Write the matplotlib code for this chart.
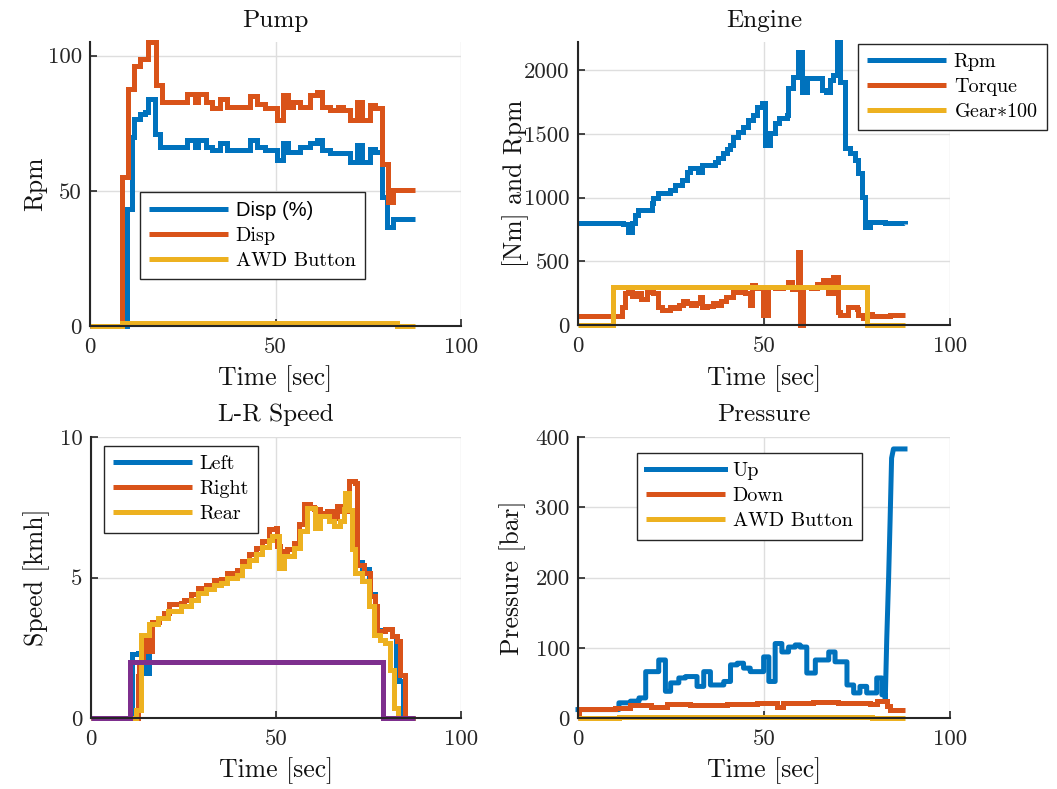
import matplotlib
matplotlib.use("Agg")
import matplotlib.pyplot as plt
from matplotlib.font_manager import FontProperties

# ---------------- data ----------------
# Pump
pump_disp_pct_t = [0, 9.9, 11.2, 11.9, 13.5, 14.8, 15.7, 17.6, 19.0, 26.1, 28.3, 29.2, 31.4, 32.8,
                   35.0, 36.8, 43.1, 44.9, 47.2, 50.3, 52.1, 53.5, 56.6, 59.3, 61.1, 62.4, 64.7,
                   70.1, 71.9, 73.2, 75.5, 76.8, 78.6, 80.0, 81.8, 87.6]
pump_disp_pct = [0, 43.4, 69.9, 76.6, 78.2, 79, 84, 71.1, 66.2, 68.6, 66.2, 68.6, 66.2, 65,
                 67.5, 65, 68.6, 66.2, 65, 61.3, 67.5, 64.5, 66.2, 67.5, 68.9, 65, 64,
                 60.6, 66.9, 60.6, 65.6, 64.5, 47.7, 36.6, 39.7, 39.7]
pump_disp_t = [0, 8.5, 10.3, 11.9, 13.5, 15.7, 17.8, 19.3, 26.1, 28.3, 29.2, 31.4, 32.8, 35.0,
               36.8, 43.1, 44.9, 47.2, 50.3, 52.1, 53.5, 54.8, 56.6, 59.3, 61.1, 62.4, 64.7,
               66.9, 68.3, 70.1, 71.9, 73.2, 75.5, 76.8, 78.6, 80.4, 81.8, 87.6]
pump_disp = [0, 55, 87.7, 96, 98.8, 104.9, 89, 82.8, 85.8, 82.8, 85.8, 82.8, 80.6, 83.9,
             81, 85, 82, 80.5, 76, 85.3, 81, 82.8, 81, 85.3, 86.5, 81, 80,
             81, 80, 76, 82.8, 76, 81.8, 80.6, 60, 45.9, 50.2, 50.2]
pump_awd_t = [0, 8.5, 82.7, 87.6]
pump_awd = [0, 1, 0, 0]

# Engine
eng_t = [0, 12.2, 13.5, 14.4, 15.3, 16.2, 19.8, 20.2, 21.6, 24.7, 26.1, 27.9, 29.2, 30.1, 32.3,
         33.2, 36.8, 37.7, 39.1, 40.0, 40.9, 41.8, 43.1, 44.4, 45.8, 47.1, 48.0, 49.4, 50.3,
         51.6, 53.0, 53.9, 56.1, 56.5, 57.9, 59.2, 60.1, 61.5, 64.6, 65.5, 66.8, 67.7, 68.6,
         69.5, 70.4, 71.8, 73.1, 74.5, 75.4, 76.3, 77.1, 78.5, 82.5, 87.9]
eng_rpm = [800, 790, 732, 800, 863, 902, 954, 993, 1033, 1059, 1098, 1137, 1203, 1229, 1203,
           1255, 1281, 1307, 1346, 1380, 1412, 1477, 1516, 1555, 1608, 1647, 1712, 1738, 1412,
           1503, 1581, 1621, 1647, 1856, 1947, 2144, 1830, 1935, 1935, 1843, 1830, 1922, 1960,
           2222, 1908, 1386, 1346, 1294, 1190, 1007, 771, 810, 797, 790]
torque_t = [0, 10.4, 11.7, 12.6, 13.5, 14.4, 15.8, 17.0, 18.5, 20.2, 21.6, 22.5, 24.7, 26.0,
            27.2, 28.3, 29.2, 30.5, 31.8, 32.8, 33.2, 34.8, 36.4, 37.3, 38.5, 39.9, 41.8, 42.7,
            43.8, 44.8, 46.2, 46.7, 47.6, 49.8, 50.7, 51.2, 53.0, 55.2, 56.5, 57.4, 59.2, 59.7,
            60.1, 60.6, 62.5, 64.2, 65.9, 67.3, 68.6, 70.0, 70.4, 72.7, 74.9, 75.4, 76.7, 77.6,
            78.9, 80.3, 84.0, 87.9]
torque = [70, 70, 144, 248, 275, 230, 250, 205, 262, 250, 144, 118, 144, 130,
          160, 185, 170, 160, 175, 222, 144, 150, 170, 160, 190, 222, 300, 260,
          275, 250, 157, 313, 290, 78, 78, 300, 290, 300, 340, 285, 575, 0,
          0, 300, 290, 320, 350, 250, 380, 100, 78, 144, 125, 78, 52, 90,
          70, 70, 78, 78]
gear_t = [0, 9.5, 77.6, 87.9]
gear100 = [0, 300, 0, 0]

# L-R speed
right_t = [0, 11.7, 12.6, 13.0, 14.0, 15.2, 16.6, 18.4, 19.8, 21.1, 24.3, 25.2, 27.0, 28.8,
           31.0, 33.2, 35.0, 36.8, 39.5, 40.9, 42.7, 44.5, 46.3, 48.1, 49.9, 50.3, 51.2, 53.0,
           54.8, 56.2, 57.5, 59.3, 60.2, 62.0, 63.8, 65.1, 66.5, 67.8, 69.2, 69.6, 71.4, 71.9,
           73.7, 75.5, 76.8, 77.3, 79.5, 81.3, 82.7, 83.6, 84.9, 87.6]
right_v = [0, 0, 1.5, 2.0, 2.85, 2.4, 3.4, 3.56, 3.74, 4.04, 4.1, 4.2, 4.4, 4.63,
           4.75, 4.9, 4.93, 5.17, 5.28, 5.58, 5.82, 6.06, 6.29, 6.71, 6.77, 6.12, 5.94, 6.0,
           6.24, 6.89, 7.6, 7.5, 7.42, 7.3, 7.35, 7.13, 7.54, 7.35, 7.66, 8.43, 8.37, 5.46,
           5.17, 4.33, 3.98, 3.09, 3.15, 2.91, 2.73, 1.54, 0, 0]
left_t = [0, 11.2, 12.6, 13.5, 14.8, 15.7, 16.6, 18.4, 19.8, 21.1, 24.3, 25.2, 27.0, 28.8,
          31.0, 33.2, 35.0, 36.8, 39.5, 40.9, 42.7, 44.5, 46.3, 48.1, 49.9, 50.3, 51.2, 53.0,
          54.8, 56.2, 57.5, 59.3, 60.2, 62.0, 63.8, 65.1, 66.5, 67.8, 69.2, 69.6, 71.4, 71.9,
          73.2, 75.0, 76.8, 77.3, 79.5, 81.3, 82.3, 83.3, 84.3, 87.6]
left_v = [0, 2.26, 2.3, 2.8, 1.6, 2.4, 3.4, 3.56, 3.74, 4.04, 4.1, 4.2, 4.4, 4.63,
          4.75, 4.9, 4.93, 5.17, 5.28, 5.58, 5.82, 6.06, 6.29, 6.71, 6.77, 6.12, 5.94, 6.0,
          6.24, 6.89, 7.6, 7.5, 7.42, 7.3, 7.35, 7.13, 7.54, 7.35, 7.66, 8.43, 8.37, 5.55,
          5.3, 4.4, 3.98, 3.12, 3.15, 2.91, 1.9, 1.3, 0, 0]
rear_t = [0, 12.1, 13.5, 15.7, 18.0, 20.7, 24.3, 27.0, 28.8, 31.0, 33.2, 35.0, 36.8, 39.5,
          40.9, 42.7, 44.5, 46.3, 48.1, 49.0, 50.8, 52.1, 54.8, 56.6, 58.4, 60.6, 62.0, 64.2,
          65.6, 67.4, 68.3, 68.7, 69.6, 70.5, 71.4, 73.2, 75.0, 76.4, 78.2, 79.5, 80.9, 81.8,
          83.1, 87.6]
rear_v = [0, 0.3, 2.97, 3.33, 3.56, 3.8, 3.98, 4.2, 4.45, 4.6, 4.75, 4.8, 5.0, 5.1,
          5.4, 5.62, 5.85, 6.1, 6.35, 6.47, 5.34, 5.76, 6.05, 6.65, 7.48, 6.77, 7.19, 7.0,
          6.83, 7.0, 7.42, 8.0, 7.4, 6.0, 5.17, 4.87, 3.98, 2.97, 2.79, 2.67, 1.72, 0.36,
          0, 0]
cmd_t = [0, 10.6, 78.9, 87.6]
cmd_v = [0, 2, 0, 0]

# Pressure (stepped part, then the final pressure build-up sampled as a ramp)
up_t = [0, 11.0, 14.1, 16.4, 18.2, 21.7, 23.5, 24.9, 27.1, 28.9, 32.0, 33.8, 35.6, 39.2, 41.0,
        42.8, 44.5, 46.3, 49.9, 51.3, 53.0, 54.8, 56.6, 58.4, 59.7, 61.5, 63.8, 67.4, 69.1,
        72.3, 74.1, 75.8, 77.6, 80.3, 81.7, 82.6]
up_v = [12, 21.6, 24, 28.6, 66, 82.6, 38, 50, 57, 59, 45, 66, 47, 52, 75.6,
        78, 71, 66, 87, 52, 106, 94, 101, 104, 101, 64, 82.6, 94, 80,
        47, 35.7, 45, 35.7, 57, 33, 26]
up_rise_t = [82.6, 83.0, 83.5, 83.9, 84.3, 84.8, 87.9]
up_rise_v = [26, 113, 200, 282, 370, 383, 383]
down_t = [0, 0.3, 10.0, 14.1, 19.5, 24.0, 30.0, 40.0, 48.0, 53.5, 55.0, 63.3, 70.0, 78.5,
          80.3, 83.0, 84.0, 87.9]
down_v = [0, 13, 14, 18, 15.5, 20, 19, 20, 21.6, 16, 21, 23, 22, 20,
          24, 17, 12, 12]
press_awd_t = [0, 11.0, 79.0, 87.9]
press_awd = [0, 2, 0, 0]

C_BLUE, C_ORANGE, C_YELLOW, C_PURPLE = "#0072BD", "#D95319", "#EDB120", "#7E2F8E"

# ---------------- styling ----------------
plt.rcParams.update({
    "font.family": "cmr10",
    "mathtext.fontset": "cm",
    "axes.unicode_minus": False,
    "axes.formatter.use_mathtext": False,
})
FS_TICK = 16.5
FS_LAB = 18.5
FS_TITLE = 18.2
FS_LEG = 14.5
LW = 3.6
AX_COL = "#262626"

fig = plt.figure(figsize=(10.57, 7.89), dpi=100)

boxes = {
    "pump":  [90 / 1057, 1 - 326 / 789, 371 / 1057, 284 / 789],
    "eng":   [578 / 1057, 1 - 325 / 789, 372 / 1057, 283 / 789],
    "speed": [91 / 1057, 1 - 718 / 789, 370 / 1057, 281 / 789],
    "press": [578 / 1057, 1 - 718 / 789, 372 / 1057, 281 / 789],
}


def steps(t, v):
    """Vertices of a sample-and-hold trace."""
    xs, ys = [t[0]], [v[0]]
    for i in range(1, len(t)):
        xs += [t[i], t[i]]
        ys += [v[i - 1], v[i]]
    return xs, ys


def style(ax, title, ylabel, ylim, yticks, ylab_x, xlab_y, title_y):
    ax.set_xlim(0, 100)
    ax.set_ylim(*ylim)
    ax.set_xticks([0, 50, 100])
    ax.set_yticks(yticks)
    ax.grid(True, color="#dedede", lw=1.0)
    ax.set_axisbelow(True)
    for s in ("top", "right"):
        ax.spines[s].set_visible(False)
    for s in ("left", "bottom"):
        ax.spines[s].set_color(AX_COL)
        ax.spines[s].set_linewidth(1.5)
    ax.tick_params(direction="in", length=5, width=1.2, colors=AX_COL,
                   labelsize=FS_TICK, labelcolor="#262626")
    ax.tick_params(axis="x", pad=8)
    ax.tick_params(axis="y", pad=6)
    ax.set_title(title, fontsize=FS_TITLE, color="#111111", y=title_y, va="center", pad=0)
    ax.set_xlabel("Time [sec]", fontsize=FS_LAB, color="#111111", va="center")
    ax.xaxis.set_label_coords(0.5, xlab_y)
    ax.set_ylabel(ylabel, fontsize=FS_LAB, color="#111111", va="center")
    ax.yaxis.set_label_coords(ylab_x, 0.5)
    ax.set_facecolor("none")


def legend(ax, anchor, **kw):
    lg = ax.legend(loc="upper left", bbox_to_anchor=anchor, borderaxespad=0,
                   fontsize=FS_LEG, frameon=True, fancybox=False, framealpha=1,
                   edgecolor=AX_COL, handlelength=3.9, handletextpad=0.4,
                   labelspacing=0.35, borderpad=0.45, **kw)
    lg.get_frame().set_linewidth(1.0)
    return lg


def trace(ax, t, v, color, label=None):
    xs, ys = steps(t, v)
    ax.plot(xs, ys, color=color, lw=LW, label=label, clip_on=False,
            solid_joinstyle="miter", solid_capstyle="butt")


# Pump
ax = fig.add_axes(boxes["pump"])
trace(ax, pump_disp_pct_t, pump_disp_pct, C_BLUE, "Disp (%)")
trace(ax, pump_disp_t, pump_disp, C_ORANGE, "Disp")
trace(ax, pump_awd_t, pump_awd, C_YELLOW, "AWD Button")
style(ax, "Pump", "Rpm", (0, 105), [0, 50, 100], -0.148, -0.185, 1.074)
lg = legend(ax, (0.135, 0.472))
lg.get_texts()[0].set_fontproperties(FontProperties(family="Liberation Sans", size=FS_LEG))

# Engine
ax = fig.add_axes(boxes["eng"])
trace(ax, eng_t, eng_rpm, C_BLUE, "Rpm")
trace(ax, torque_t, torque, C_ORANGE, "Torque")
trace(ax, gear_t, gear100, C_YELLOW, r"Gear$*$100")
style(ax, "Engine", "[Nm] and Rpm", (0, 2220), [0, 500, 1000, 1500, 2000], -0.169, -0.188, 1.074)
legend(ax, (0.753, 0.993))

# L-R speed
ax = fig.add_axes(boxes["speed"])
trace(ax, left_t, left_v, C_BLUE, "Left")
trace(ax, right_t, right_v, C_ORANGE, "Right")
trace(ax, rear_t, rear_v, C_YELLOW, "Rear")
trace(ax, cmd_t, cmd_v, C_PURPLE)
style(ax, "L-R Speed", "Speed [kmh]", (0, 10), [0, 5, 10], -0.146, -0.189, 1.078)
legend(ax, (0.035, 0.968))

# Pressure
ax = fig.add_axes(boxes["press"])
xs, ys = steps(up_t, up_v)
ax.plot(xs + up_rise_t[1:], ys + up_rise_v[1:], color=C_BLUE, lw=LW, label="Up", clip_on=False)
trace(ax, down_t, down_v, C_ORANGE, "Down")
trace(ax, press_awd_t, press_awd, C_YELLOW, "AWD Button")
style(ax, "Pressure", "Pressure [bar]", (0, 400), [0, 100, 200, 300, 400], -0.175, -0.189, 1.078)
legend(ax, (0.159, 0.943))

fig.savefig("out.png", dpi=100, facecolor="white")
